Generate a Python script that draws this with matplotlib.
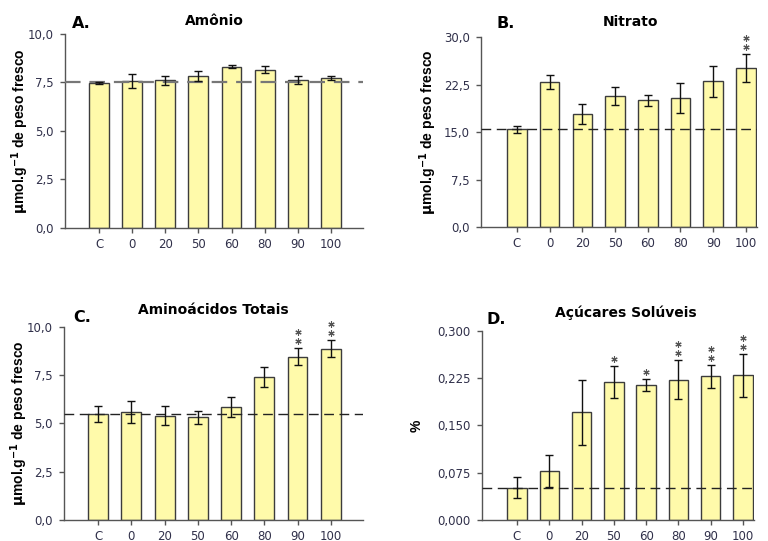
import matplotlib
matplotlib.use("Agg")
import matplotlib.pyplot as plt
import matplotlib.transforms as mtransforms
from matplotlib.ticker import FuncFormatter

plt.rcParams['font.family'] = ['DejaVu Sans']

categories = ["C", "0", "20", "50", "60", "80", "90", "100"]

# A. Amônio
amonio = [7.49, 7.58, 7.62, 7.84, 8.32, 8.15, 7.62, 7.74]
amonio_err = [0.05, 0.37, 0.23, 0.24, 0.09, 0.18, 0.21, 0.11]
amonio_ref = 7.52
amonio_stars = [0, 0, 0, 0, 0, 0, 0, 0]

# B. Nitrato
nitrato = [15.4, 22.9, 17.8, 20.7, 20.0, 20.4, 23.0, 25.1]
nitrato_err = [0.6, 1.05, 1.55, 1.4, 0.85, 2.4, 2.45, 2.2]
nitrato_ref = 15.4
nitrato_stars = [0, 0, 0, 0, 0, 0, 0, 2]

# C. Aminoácidos Totais
amino = [5.49, 5.58, 5.40, 5.32, 5.85, 7.42, 8.45, 8.88]
amino_err = [0.40, 0.57, 0.50, 0.35, 0.50, 0.51, 0.44, 0.46]
amino_ref = 5.49
amino_stars = [0, 0, 0, 0, 0, 0, 2, 2]

# D. Açúcares Solúveis
acucar = [0.0515, 0.0775, 0.171, 0.219, 0.2145, 0.223, 0.228, 0.230]
acucar_err = [0.017, 0.025, 0.052, 0.025, 0.010, 0.031, 0.018, 0.034]
acucar_ref = 0.0515
acucar_stars = [0, 0, 0, 1, 1, 2, 2, 2]

fig = plt.figure(figsize=(7.68, 5.41), dpi=100)

ylab = r"$\mathbf{\mu}$mol.g$^{\mathbf{-1}}$ de peso fresco"

panels = [
    # rect, values, err, ref, stars, ymax, ticks, decimals, title, letter, ylabel, labelpad,
    # xlim, dash colour, dash width, title pos, letter pos
    ([0.0846, 0.5786, 0.3880, 0.3586], amonio, amonio_err, amonio_ref, amonio_stars,
     10.0, [0, 2.5, 5, 7.5, 10], 1, "Amônio", "A.", ylab, -2, (-1.03, 7.97), "#777777", 1.6,
     (0.50, 21), (72, 23)),
    ([0.6263, 0.5804, 0.3594, 0.3512], nitrato, nitrato_err, nitrato_ref, nitrato_stars,
     30.0, [0, 7.5, 15, 22.5, 30], 1, "Nitrato", "B.", ylab, 3.5, (-1.10, 7.34), "#222222", 1.0,
     (0.54, 22), (497, 24)),
    ([0.0833, 0.0388, 0.3893, 0.3568], amino, amino_err, amino_ref, amino_stars,
     10.0, [0, 2.5, 5, 7.5, 10], 1, "Aminoácidos Totais", "C.", ylab, -2, (-1.03, 7.97), "#222222", 1.0,
     (0.50, 310), (73, 318)),
    ([0.6276, 0.0388, 0.3542, 0.3494], acucar, acucar_err, acucar_ref, acucar_stars,
     0.300, [0, 0.075, 0.15, 0.225, 0.3], 3, "Açúcares Solúveis", "D.", "%", 10, (-1.08, 7.34), "#222222", 1.0,
     (0.53, 313), (486, 319)),
]

W, H = 768.0, 541.0
x = list(range(len(categories)))

for (rect, vals, errs, ref, stars, ymax, ticks, dec, title, letter, ylabel, lpad,
     xlim, dcol, dlw, tpos, lpos) in panels:
    ax = fig.add_axes(rect)
    ax.bar(x, vals, width=0.6, color="#FFFAAA", edgecolor="#3c3c3c", linewidth=1.0, zorder=2)
    ax.errorbar(x, vals, yerr=errs, fmt="none", ecolor="#111111", elinewidth=1.0,
                capsize=3, capthick=1.0, zorder=4)
    ax.axhline(ref, color=dcol, lw=dlw, dashes=(7, 4), zorder=3)
    ax.set_xlim(*xlim)
    ax.set_ylim(0, ymax)
    ax.set_yticks(ticks)
    ax.yaxis.set_major_formatter(FuncFormatter(
        lambda v, p, d=dec: ("%.*f" % (d, v)).replace(".", ",")))
    ax.set_xticks(x)
    ax.set_xticklabels(categories)
    for s in ["top", "right"]:
        ax.spines[s].set_visible(False)
    for s in ["left", "bottom"]:
        ax.spines[s].set_color("#555555")
        ax.spines[s].set_linewidth(1.0)
    ax.tick_params(axis="both", colors="#555555", length=3.5, width=1.0,
                   labelcolor="#30304a", labelsize=8.5)
    ax.tick_params(axis="x", pad=3.5)
    ax.tick_params(axis="y", pad=4.5)
    ax.set_ylabel(ylabel, fontsize=10, fontweight="bold", labelpad=lpad,
                  family="Liberation Sans")

    # significance asterisks above the error bars
    for i, n in enumerate(stars):
        for k in range(n):
            off = mtransforms.offset_copy(ax.transData, fig=fig, x=0,
                                          y=5 + 6.5 * k, units="points")
            ax.plot([i], [vals[i] + errs[i]], marker=(6, 2, 0), markersize=4.5,
                    markeredgewidth=0.8, color="#555555", transform=off,
                    clip_on=False, zorder=5)

    cx = rect[0] + rect[2] * tpos[0]
    fig.text(cx, 1 - tpos[1] / H, title, ha="center", va="center",
             fontsize=10, fontweight="bold")
    fig.text(lpos[0] / W, 1 - lpos[1] / H, letter, ha="left", va="center",
             fontsize=11.5, fontweight="bold")

fig.savefig("out.png", dpi=100)
